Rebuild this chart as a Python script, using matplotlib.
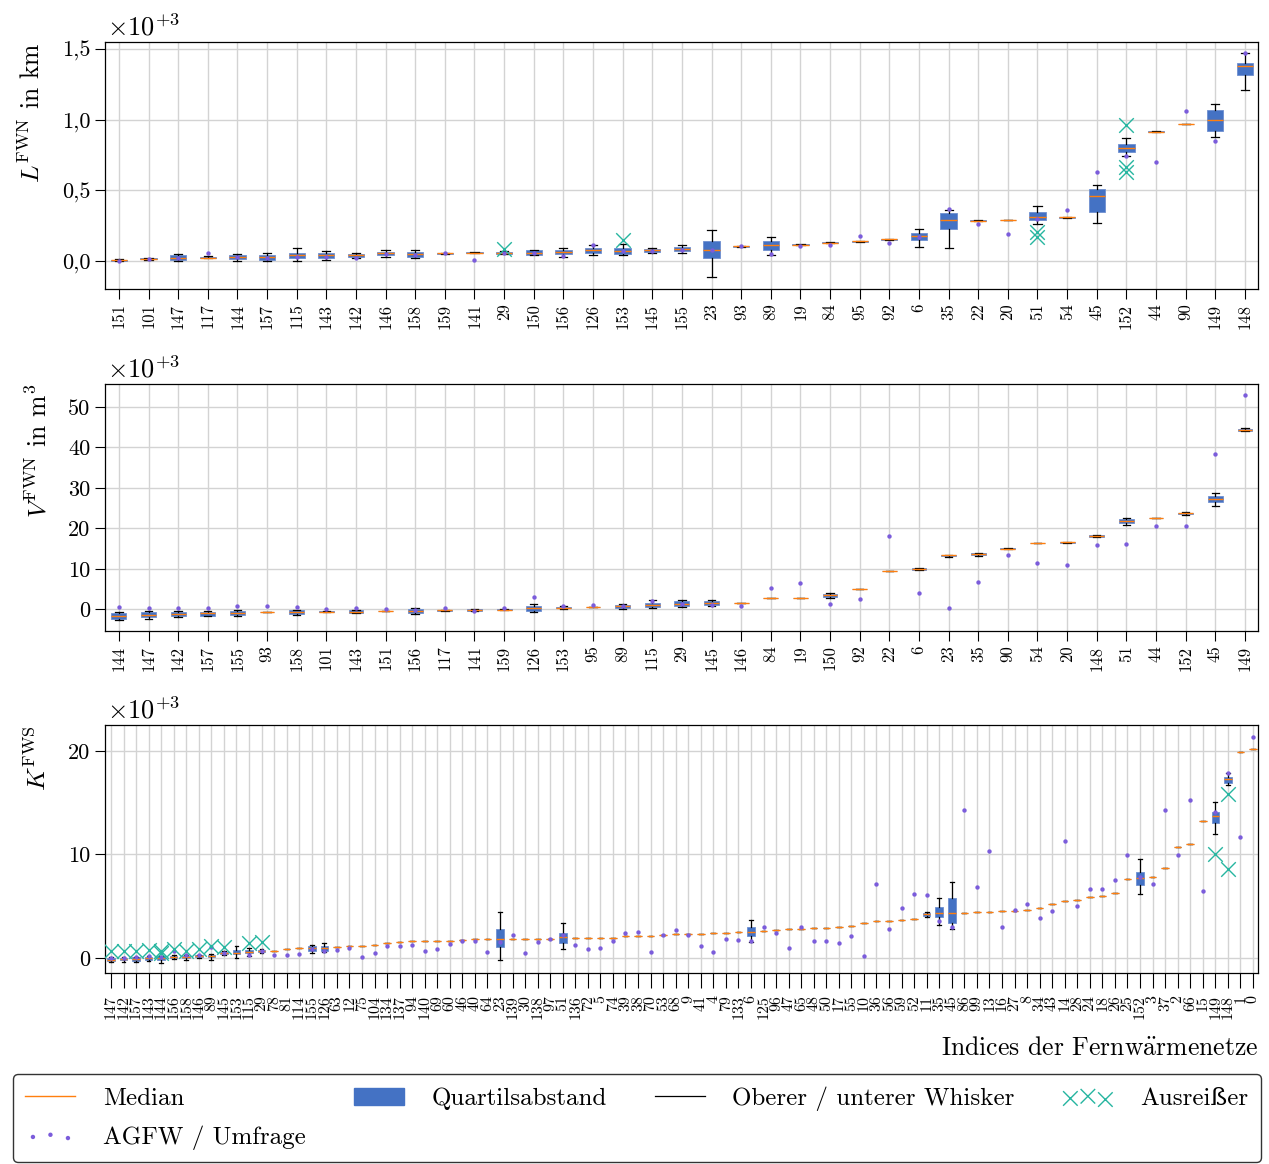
import matplotlib
matplotlib.use('Agg')
import matplotlib.pyplot as plt
from matplotlib.lines import Line2D
from matplotlib.patches import Patch

plt.rcParams['font.family'] = ['cmr10', 'DejaVu Serif']
plt.rcParams['mathtext.fontset'] = 'cm'
plt.rcParams['axes.formatter.use_mathtext'] = True
plt.rcParams['axes.unicode_minus'] = False

C_BOX = '#4472C4'
C_MED = '#FF7F0E'
C_OUT = '#26B5A0'
C_DOT = '#7B5CDB'
C_GRID = '#D3D3D3'

# ---------------- Leitungslaenge L^FWN (x 10^3 km) ----------------
labels1 = ['151', '101', '147', '117', '144', '157', '115', '143', '142', '146', '158', '159', '141',
           '29', '150', '156', '126', '153', '145', '155', '23', '93', '89', '19', '84', '95', '92',
           '6', '35', '22', '20', '51', '54', '45', '152', '44', '90', '149', '148']
med1 = [0.005, 0.015, 0.025, 0.025, 0.03, 0.03, 0.04, 0.04, 0.04, 0.055, 0.05, 0.055, 0.06,
        0.06, 0.06, 0.065, 0.075, 0.07, 0.075, 0.085, 0.08, 0.105, 0.11, 0.115, 0.13, 0.14, 0.155,
        0.18, 0.29, 0.285, 0.29, 0.31, 0.31, 0.46, 0.80, 0.915, 0.97, 1.00, 1.38]
q1_1 = [0.0, 0.012, 0.01, 0.02, 0.015, 0.01, 0.02, 0.02, 0.03, 0.04, 0.03, 0.052, 0.058,
        0.05, 0.045, 0.05, 0.06, 0.05, 0.065, 0.07, 0.02, 0.102, 0.08, 0.112, 0.127, 0.137, 0.152,
        0.15, 0.23, 0.282, 0.287, 0.29, 0.307, 0.35, 0.77, 0.912, 0.967, 0.92, 1.32]
q3_1 = [0.01, 0.018, 0.04, 0.03, 0.045, 0.045, 0.06, 0.06, 0.05, 0.065, 0.065, 0.058, 0.062,
        0.065, 0.075, 0.08, 0.09, 0.09, 0.085, 0.10, 0.14, 0.108, 0.14, 0.118, 0.133, 0.143, 0.158,
        0.20, 0.34, 0.288, 0.293, 0.35, 0.313, 0.51, 0.83, 0.918, 0.973, 1.07, 1.40]
lo1 = [0.0, 0.01, 0.0, 0.02, 0.0, 0.0, 0.0, 0.01, 0.02, 0.03, 0.02, 0.052, 0.058,
       0.05, 0.04, 0.03, 0.04, 0.04, 0.06, 0.06, -0.11, 0.102, 0.04, 0.112, 0.127, 0.137, 0.152,
       0.10, 0.09, 0.282, 0.287, 0.26, 0.307, 0.27, 0.74, 0.912, 0.967, 0.88, 1.21]
hi1 = [0.012, 0.02, 0.05, 0.035, 0.05, 0.055, 0.09, 0.07, 0.055, 0.075, 0.075, 0.058, 0.062,
       0.07, 0.08, 0.09, 0.11, 0.12, 0.09, 0.11, 0.22, 0.108, 0.17, 0.118, 0.133, 0.143, 0.158,
       0.23, 0.36, 0.288, 0.293, 0.39, 0.313, 0.54, 0.87, 0.918, 0.973, 1.11, 1.47]
out1 = {13: [0.085], 17: [0.15], 31: [0.17, 0.205], 34: [0.96, 0.665, 0.63]}
agfw1 = [0.0, 0.015, 0.02, 0.06, 0.03, 0.02, 0.03, 0.03, 0.02, 0.05, 0.04, 0.055, 0.007,
         0.06, 0.06, 0.035, 0.11, 0.07, 0.07, 0.08, 0.08, 0.105, 0.05, 0.105, 0.115, 0.18, 0.13,
         0.17, 0.37, 0.26, 0.19, 0.30, 0.36, 0.63, 0.74, 0.70, 1.06, 0.85, 1.47]

# ---------------- Wasservolumen V^FWN (x 10^3 m^3) ----------------
labels2 = ['144', '147', '142', '157', '155', '93', '158', '101', '143', '151', '156', '117', '141',
           '159', '126', '153', '95', '89', '115', '29', '145', '146', '84', '19', '150', '92', '22',
           '6', '23', '35', '90', '54', '20', '148', '51', '44', '152', '45', '149']
med2 = [-1.8, -1.5, -1.2, -1.0, -0.9, -0.7, -0.8, -0.6, -0.6, -0.5, -0.4, -0.3, -0.2,
        -0.1, 0.3, 0.4, 0.6, 0.7, 1.0, 1.4, 1.6, 1.6, 2.7, 2.7, 3.4, 5.0, 9.5,
        10.0, 13.3, 13.6, 15.0, 16.4, 16.5, 18.1, 21.7, 22.5, 23.7, 27.2, 44.4]
q1_2 = [-2.5, -2.0, -1.8, -1.6, -1.5, -0.75, -1.3, -0.65, -0.9, -0.55, -1.0, -0.35, -0.4,
        -0.15, -0.4, 0.2, 0.55, 0.3, 0.5, 0.9, 1.0, 1.55, 2.65, 2.65, 3.0, 4.95, 9.45,
        9.8, 13.1, 13.3, 14.95, 16.35, 16.45, 17.9, 21.2, 22.45, 23.5, 26.4, 44.1]
q3_2 = [-1.0, -0.8, -0.7, -0.6, -0.4, -0.65, -0.3, -0.55, -0.3, -0.45, 0.0, -0.25, 0.0,
        -0.05, 0.8, 0.6, 0.65, 1.1, 1.6, 1.9, 2.0, 1.65, 2.75, 2.75, 3.7, 5.05, 9.55,
        10.2, 13.4, 13.8, 15.05, 16.45, 16.55, 18.3, 22.2, 22.55, 23.9, 28.0, 44.6]
lo2 = [-2.8, -2.5, -2.0, -1.8, -1.7, -0.75, -1.5, -0.65, -1.0, -0.55, -1.2, -0.35, -0.5,
       -0.15, -0.8, 0.1, 0.55, 0.1, 0.3, 0.6, 0.8, 1.55, 2.65, 2.65, 2.8, 4.95, 9.45,
       9.7, 13.0, 13.2, 14.95, 16.35, 16.45, 17.8, 20.8, 22.45, 23.4, 25.5, 44.0]
hi2 = [-0.8, -0.5, -0.5, -0.4, -0.2, -0.65, -0.1, -0.55, -0.2, -0.45, 0.3, -0.25, 0.1,
       -0.05, 1.2, 0.8, 0.65, 1.3, 2.2, 2.2, 2.3, 1.65, 2.75, 2.75, 4.0, 5.05, 9.55,
       10.3, 13.5, 13.9, 15.05, 16.45, 16.55, 18.4, 22.5, 22.55, 24.0, 28.7, 44.7]
out2 = {}
agfw2 = [0.5, 0.2, 0.4, 0.3, 0.8, 0.8, 0.5, 0.1, 0.2, 0.1, -0.3, 0.2, -0.4,
         0.3, 3.0, 0.9, 1.1, 0.8, 2.0, 1.2, 1.0, 0.8, 5.2, 6.5, 1.2, 2.5, 18.0,
         4.0, 0.3, 6.7, 13.4, 11.3, 11.0, 15.8, 16.0, 20.5, 20.5, 38.5, 53.0]

# ---------------- Kosten K^FWS (x 10^3) ----------------
labels3 = ['147', '142', '157', '143', '144', '156', '158', '146', '89', '145', '153', '115', '29',
           '78', '81', '114', '155', '126', '63', '12', '75', '104', '134', '137', '94', '140',
           '69', '60', '46', '40', '64', '23', '139', '30', '138', '97', '51', '136', '72', '5',
           '74', '39', '38', '70', '53', '68', '9', '41', '4', '79', '133', '6', '125', '96',
           '47', '65', '48', '50', '17', '55', '10', '36', '56', '59', '52', '11', '35', '45',
           '86', '99', '13', '16', '27', '8', '34', '43', '14', '28', '24', '18', '26', '25',
           '152', '3', '37', '2', '66', '15', '149', '148', '1', '0']
med3 = [-0.15, -0.1, -0.1, -0.05, -0.05, 0.05, 0.05, 0.15, 0.15, 0.5, 0.5, 0.6, 0.7,
        0.7, 0.9, 1.0, 1.0, 1.0, 1.1, 1.2, 1.2, 1.3, 1.4, 1.5, 1.6, 1.6,
        1.6, 1.6, 1.7, 1.8, 1.8, 1.8, 1.8, 1.8, 1.8, 1.8, 2.0, 1.9, 1.9, 1.9,
        1.95, 2.1, 2.1, 2.1, 2.2, 2.3, 2.3, 2.3, 2.4, 2.4, 2.5, 2.5, 2.6, 2.7,
        2.8, 2.8, 2.9, 2.9, 3.0, 3.1, 3.4, 3.6, 3.6, 3.7, 3.8, 4.2, 4.3, 4.35,
        4.35, 4.4, 4.4, 4.5, 4.5, 4.6, 4.8, 5.2, 5.5, 5.6, 5.85, 6.0, 6.25, 7.6,
        7.7, 7.8, 8.7, 10.7, 11.0, 13.2, 13.7, 17.3, 19.9, 20.2]
# (q1, q3, unterer Whisker, oberer Whisker) fuer Netze mit mehreren Werten
box3 = {0: (-0.3, 0.0, -0.4, 0.1), 1: (-0.2, 0.0, -0.35, 0.05), 2: (-0.25, 0.05, -0.4, 0.1),
        3: (-0.2, 0.1, -0.3, 0.15), 4: (-0.2, 0.15, -0.45, 0.2), 5: (0.0, 0.15, -0.1, 0.25),
        6: (-0.05, 0.2, -0.15, 0.3), 7: (0.05, 0.25, 0.0, 0.3), 8: (0.05, 0.3, -0.2, 0.4),
        9: (0.4, 0.6, 0.3, 0.65), 10: (0.4, 0.8, 0.0, 1.2), 11: (0.5, 0.8, 0.2, 1.0),
        12: (0.6, 0.8, 0.5, 0.85), 16: (0.7, 1.2, 0.5, 1.3), 17: (0.7, 1.2, 0.6, 1.4),
        31: (1.1, 2.8, -0.2, 4.4), 36: (1.4, 2.4, 0.9, 3.4), 51: (2.1, 3.0, 1.5, 3.7),
        65: (4.1, 4.3, 4.0, 4.4), 66: (3.93, 4.96, 3.2, 5.76), 67: (3.41, 5.8, 2.77, 7.3),
        82: (7.05, 8.34, 6.19, 9.55), 88: (13.07, 14.13, 12.0, 15.1), 89: (16.9, 17.5, 16.7, 17.9)}
out3 = {0: [0.67], 1: [0.67], 2: [0.67], 3: [0.75], 4: [0.45, 0.7], 5: [0.9], 6: [0.7],
        7: [0.85], 8: [1.2], 9: [1.1], 11: [1.4], 12: [1.5], 88: [10.0], 89: [15.8, 8.6]}
agfw3 = [-0.05, 0.0, 0.07, 0.2, 0.13, 0.64, 0.29, 0.29, 1.1, 0.48, None, 0.29, 0.64,
         0.29, 0.29, 0.35, 0.83, 0.71, 0.74, 1.0, 0.13, 0.45, 1.12, 1.12, 1.25, 0.68,
         0.83, 1.35, 1.67, 1.67, 0.55, 1.5, 2.2, 0.5, 1.5, 1.8, 2.2, 1.3, 0.9, 1.0,
         1.6, 2.4, 2.5, 0.6, 2.2, 2.7, 2.2, 1.2, 0.6, 1.8, 1.7, 1.6, 3.0, 2.4,
         1.0, 3.0, 1.6, 1.6, 1.4, 2.1, 0.15, 7.1, 2.8, 4.8, 6.2, 6.1, 3.6, 3.0,
         14.3, 6.9, 10.35, 3.0, 4.6, 5.2, 3.9, 4.5, 11.3, 5.0, 6.7, 6.7, 7.5, 9.9,
         7.8, 7.1, 14.3, 9.9, 15.3, 6.5, 14.1, 17.9, 11.65, 21.3]

q1_3, q3_3, lo3, hi3 = [], [], [], []
for i, m in enumerate(med3):
    a, b, c, d = box3.get(i, (m, m, m, m))
    q1_3.append(a)
    q3_3.append(b)
    lo3.append(c)
    hi3.append(d)


def make_stats(med, q1, q3, lo, hi):
    return [dict(med=med[i], q1=q1[i], q3=q3[i], whislo=lo[i], whishi=hi[i], fliers=[])
            for i in range(len(med))]


def draw_panel(ax, labels, stats, outliers, agfw, width, xfs, ylim, xlim,
               yticks, yticklabels, ylabel, osize):
    pos = list(range(len(labels)))
    ax.bxp(stats, positions=pos, widths=width, patch_artist=True, showfliers=False,
           boxprops=dict(facecolor=C_BOX, edgecolor='#6E8FD0', linewidth=0.6),
           medianprops=dict(color=C_MED, linewidth=1.0),
           whiskerprops=dict(color='black', linewidth=0.9),
           capprops=dict(color='black', linewidth=0.9),
           manage_ticks=False)
    ox = [i for i, vals in outliers.items() for _ in vals]
    oy = [v for vals in outliers.values() for v in vals]
    sc_out = ax.scatter(ox, oy, marker='x', color=C_OUT, s=osize, linewidths=1.0, zorder=5)
    xs = [p for p, v in zip(pos, agfw) if v is not None]
    ys = [v for v in agfw if v is not None]
    sc_dot = ax.scatter(xs, ys, s=10, color=C_DOT, linewidths=0, zorder=4)
    ax.set_xticks(pos)
    ax.set_xticklabels(labels, rotation=90, fontsize=xfs)
    ax.set_yticks(yticks)
    ax.set_yticklabels(yticklabels, fontsize=16)
    ax.set_xlim(*xlim)
    ax.set_ylim(*ylim)
    ax.grid(True, color=C_GRID, linewidth=1.0)
    ax.set_axisbelow(True)
    ax.tick_params(direction='out', length=7, width=0.8)
    ax.set_ylabel(ylabel, fontsize=18.5, loc='top', labelpad=12)
    ax.text(0.002, 1.006, r'$\times10^{+3}$', transform=ax.transAxes, fontsize=19,
            ha='left', va='bottom')
    for s in ax.spines.values():
        s.set_linewidth(0.9)
    return sc_out, sc_dot


fig = plt.figure(figsize=(12.69, 11.64), dpi=100)
ax1 = fig.add_axes([0.0827, 0.7517, 0.9086, 0.2122])
ax2 = fig.add_axes([0.0827, 0.4579, 0.9086, 0.2122])
ax3 = fig.add_axes([0.0827, 0.1641, 0.9086, 0.2130])

h_out, h_dot = draw_panel(ax1, labels1, make_stats(med1, q1_1, q3_1, lo1, hi1), out1, agfw1,
                          0.55, 12, (-0.198, 1.55), (-0.47, 38.44),
                          [0.0, 0.5, 1.0, 1.5], ['0,0', '0,5', '1,0', '1,5'],
                          r'$L^{\mathrm{FWN}}$ in km', 110)
draw_panel(ax2, labels2, make_stats(med2, q1_2, q3_2, lo2, hi2), out2, agfw2,
           0.5, 12, (-5.4, 55.7), (-0.47, 38.44),
           [0, 10, 20, 30, 40, 50], ['0', '10', '20', '30', '40', '50'],
           r'$V^{\mathrm{FWN}}$ in m$^3$', 110)
draw_panel(ax3, labels3, make_stats(med3, q1_3, q3_3, lo3, hi3), out3, agfw3,
           0.6, 11.5, (-1.45, 22.5), (-0.48, 91.4),
           [0, 10, 20], ['0', '10', '20'],
           r'$K^{\mathrm{FWS}}$', 110)
ax3.tick_params(axis='x', length=11, pad=5)
ax3.set_xlabel(r'Indices der Fernw$\ddot{\mathrm{a}}$rmenetze', fontsize=18.5, loc='right',
               labelpad=12)

h_med = Line2D([], [], color=C_MED, lw=1.0)
h_box = Patch(facecolor=C_BOX, edgecolor=C_BOX)
h_wh = Line2D([], [], color='black', lw=0.9)
fig.legend([h_med, h_dot, h_box, h_wh, h_out],
           ['Median', 'AGFW / Umfrage', 'Quartilsabstand', 'Oberer / unterer Whisker', 'Ausreißer'],
           loc='lower left', bbox_to_anchor=(0.0102, 0.0017, 0.9835, 0.0705), mode='expand',
           ncol=4, fontsize=18, frameon=True, fancybox=True, edgecolor='#333333',
           framealpha=1.0, scatterpoints=3, handlelength=2.0, handletextpad=1.1,
           borderpad=0.5, labelspacing=0.6, borderaxespad=0.0)

fig.savefig('out.png', dpi=100)
